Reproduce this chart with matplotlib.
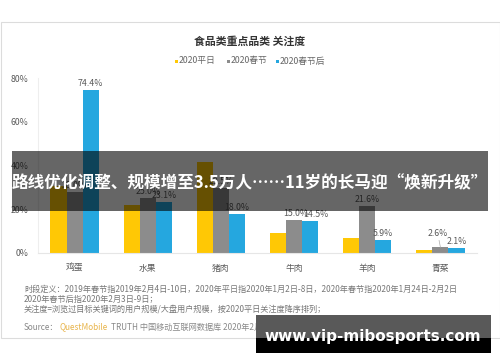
import numpy as np
import matplotlib.pyplot as plt
from matplotlib.patches import Rectangle

plt.rcParams['font.family'] = ['Noto Sans CJK SC', 'DejaVu Sans']

categories = ['鸡蛋', '水果', '猪肉', '牛肉', '羊肉', '青菜']
series_names = ['2020平日', '2020春节', '2020春节后']
pingri = [30.5, 21.9, 41.7, 9.0, 6.7, 1.4]
chunjie = [28.0, 25.0, 29.5, 15.0, 21.6, 2.6]
chunjiehou = [74.4, 23.1, 18.0, 14.5, 5.9, 2.1]
colors = ['#FFC805', '#8C8C8C', '#25A7DF']
yticks = [0, 20, 40, 60, 80]

title = '食品类重点品类 关注度'
banner = '路线优化调整、规模增至3.5万人……11岁的长马迎“焕新升级”'
site = 'www.vip-mibosports.com'
notes = [
    '时段定义：2019年春节指2019年2月4日-10日，2020年平日指2020年1月2日-8日，2020年春节指2020年1月24日-2月2日',
    '2020年春节后指2020年2月3日-9日；',
    '关注度=浏览过目标关键词的用户规模/大盘用户规模，按2020平日关注度降序排列；',
]

W, H = 500, 362
fig = plt.figure(figsize=(W / 100, H / 100), dpi=100)

# background layer in pixel coordinates (y down)
bg = fig.add_axes([0, 0, 1, 1], zorder=0)
bg.set_xlim(0, W)
bg.set_ylim(H, 0)
bg.axis('off')
bg.add_patch(Rectangle((0.5, 22), 499, 316, facecolor='white', edgecolor='#dcdcdc', lw=0.8))

ax = fig.add_axes([38 / W, 1 - 253 / H, (477 - 38) / W, (253 - 78) / H], zorder=1)
x = np.arange(len(categories))
w = 0.22
all_series = [pingri, chunjie, chunjiehou]
for i, vals in enumerate(all_series):
    bars = ax.bar(x + (i - 1) * w, vals, w, color=colors[i], zorder=2)
    if i == 0:
        continue
    for j, b in enumerate(bars):
        v = vals[j]
        if categories[j] == '青菜' and i == 1:
            ax.annotate(f'{v:.1f}%', (b.get_x() + w / 2, v), xytext=(-2, 7), textcoords='offset points',
                        ha='center', va='bottom', fontsize=6.3, color='#595959',
                        arrowprops=dict(arrowstyle='-', color='#aaaaaa', lw=0.5, shrinkA=0, shrinkB=0))
            continue
        dx = 0
        if categories[j] == '牛肉':
            dx = 1.5 if i == 1 else 4
        ax.annotate(f'{v:.1f}%', (b.get_x() + w / 2, v), xytext=(dx, 1.5), textcoords='offset points',
                    ha='center', va='bottom', fontsize=6.3, color='#595959')

ax.set_xlim(-0.5, 5.5)
ax.set_ylim(0, 80)
ax.set_yticks(yticks)
ax.set_yticklabels([f'{t}%' for t in yticks], fontsize=6.3, color='#595959')
ax.set_xticks(x)
ax.set_xticklabels(categories, fontsize=6.3, color='#595959')
ax.tick_params(length=0, pad=8)
ax.tick_params(axis='y', pad=7)
for s in ['top', 'right']:
    ax.spines[s].set_visible(False)
ax.spines['left'].set_color('#eeeeee')
ax.spines['bottom'].set_color('#e6e6e6')
ax.patch.set_alpha(0)

bg.text(250, 41, title, ha='center', va='center', fontsize=7.8, fontweight='bold', color='#333333')

# legend
leg_x = [176, 228, 277]
for i, name in enumerate(series_names):
    bg.add_patch(Rectangle((leg_x[i] - 1.5, 59.5), 3, 3, facecolor=colors[i], edgecolor='none'))
    bg.text(leg_x[i] + 3, 61, name, ha='left', va='center', fontsize=6.3, color='#666666')

# footnotes
for k, line in enumerate(notes):
    bg.text(24, 289 + k * 10, line, ha='left', va='center', fontsize=5.9, color='#777777')
bg.text(24, 327, 'Source：', ha='left', va='center', fontsize=5.9, color='#888888')
bg.text(60, 327, 'QuestMobile', ha='left', va='center', fontsize=5.9, color='#E8B44A')
bg.text(111, 327, 'TRUTH 中国移动互联网数据库 2020年2月', ha='left', va='center', fontsize=5.9, color='#888888')

# overlay layer on top of the chart
ov = fig.add_axes([0, 0, 1, 1], zorder=10)
ov.set_xlim(0, W)
ov.set_ylim(H, 0)
ov.axis('off')
ov.patch.set_alpha(0)
ov.add_patch(Rectangle((12, 151), 476, 60, facecolor='black', alpha=0.6, edgecolor='none'))
ov.text(250, 183, banner, ha='center', va='center', fontsize=12.0, fontweight='bold', color='white')
ov.add_patch(Rectangle((256, 315), 235, 23, facecolor='#595959', edgecolor='none'))
ov.add_patch(Rectangle((256, 338), 235, 15, facecolor='black', edgecolor='none'))
ov.text(373, 336, site, ha='center', va='center', fontsize=11, fontweight='bold',
        color='white', family='DejaVu Sans')

fig.savefig('out.png', dpi=100)
